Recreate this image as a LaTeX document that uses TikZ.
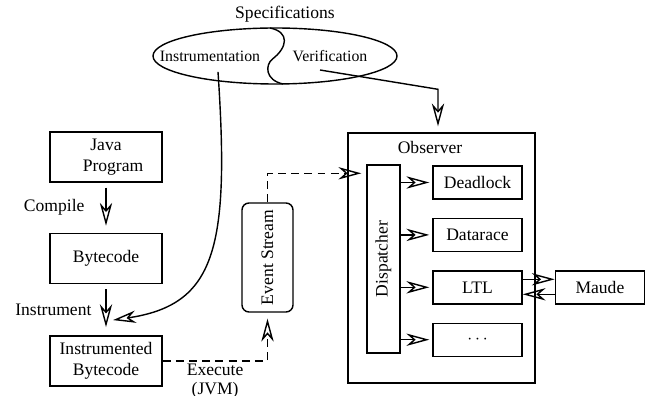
\documentclass[tikz,border=0pt]{standalone}
\usepackage{fontspec}
\setmainfont{Liberation Serif}
\usepackage{tikz}
\usetikzlibrary{positioning,arrows.meta,shapes.geometric}
\tikzset{
  block/.style={
    draw,
    rectangle,
    minimum height=1cm,
    minimum width=2.24cm,
    align=center
  },
  subblock/.style={
    draw,
    rectangle,
    minimum height=.66cm,
    minimum width=1.78cm,
    align=center
  },
  stream/.style={
    draw,
    rounded corners=4pt,
    minimum width=1.02cm,
    minimum height=2.18cm
  },
  line/.style={-{Stealth[open,length=13pt,width=7pt,inset=4pt]}},
  dline/.style={line, dash pattern=on 4.5pt off 3pt}
}
\begin{document}
\begin{tikzpicture}[line width=0.8pt]
				\useasboundingbox (0,0) rectangle (13.04,-7.92);

				% specifications
				\node[draw, ellipse, inner sep=0, minimum width=4.88cm, minimum height=1.12cm] (spec) at (5.5,-1.12) {};
				\draw (5.4,-0.56) .. controls (5.8,-0.64) and (5.75,-0.95) .. (5.45,-1.18)
				      .. controls (5.3,-1.3) and (5.3,-1.6) .. (5.66,-1.68);
				\node (specs) at (5.7,-0.28) {Specifications};
				\node[font=\small] (ins) at (4.2,-1.12) {Instrumentation};
				\node[font=\small] (ver) at (6.6,-1.12) {Verification};

				% program side
				\node[block] (java) at (2.12,-3.14) {Java\\\hspace*{0.8em}Program};
				\node[block, below = 1cm of java] (bytecode) {Bytecode};
				\node[block, below = 1.02cm of bytecode] (instr) {Instrumented\\Bytecode};
				\draw[line, shorten <=0.1cm, shorten >=0.14cm] (java.south) -- (bytecode.north) node [midway, left=0.3cm] {Compile};
				\draw[line, shorten <=0.1cm, shorten >=0.16cm] (bytecode.south) -- (instr.north) node [midway, left=0.16cm] {Instrument};

				\draw[line] ([shift={(0.16,-0.08)}]ins.south) .. controls (4.6,-5.0) and (4.3,-6.1) .. ([shift={(0.14,0.3)}]instr.north);

				% event stream
				\node[stream] (event) at (5.35,-5.15) {\rotatebox{90}{Event Stream}};
				\draw[dline, shorten >=0.12cm] (instr.east) -| (event.south) node [pos=0.25, below, inner sep=1.5pt, align=center, font=\linespread{0.9}\selectfont] {Execute\\(JVM)};

				% observer
				\node[draw, rectangle, minimum width=3.74cm, minimum height=5cm] (obs) at (8.83,-5.16) {};
				\node at ([shift={(-0.23,-0.3)}]obs.north) {Observer};
				\node[draw, rectangle, minimum width=.66cm, minimum height=3.76cm] (disp) at (7.67,-5.18) {\rotatebox{90}{Dispatcher}};

				\draw[dline] (event.north) |- ([shift={(-0.1,-0.18)}]disp.north west);
				\draw[line, shorten >=0.12cm] ([shift={(-0.2,-0.28)}]ver.center) -- ([shift={(-0.07,0.86)}]obs.north) -- ([xshift=-0.07cm]obs.north);

				\node[subblock] (dl) at (9.55,-3.65) {Deadlock};
				\node[subblock, below = 0.36cm of dl] (dr) {Datarace};
				\node[subblock, below = 0.36cm of dr] (ltl) {LTL};
				\node[subblock, below = 0.36cm of ltl] (dots) {$\cdots$};

				\draw[line, shorten >=0.06cm] (disp.east |- dl.west) -- (dl.west);
				\draw[line, shorten >=0.06cm] (disp.east |- dr.west) -- (dr.west);
				\draw[line, shorten >=0.06cm] (disp.east |- ltl.west) -- (ltl.west);
				\draw[line, shorten >=0.06cm] (disp.east |- dots.west) -- (dots.west);

				\node[subblock, right = 0.64cm of ltl] (maude) {Maude};
				\draw[line] ([yshift=0.16cm]ltl.east) -- ([yshift=0.16cm]maude.west);
				\draw[line] ([yshift=-0.14cm]maude.west) -- ([yshift=-0.14cm]ltl.east);
\end{tikzpicture}
\end{document}
